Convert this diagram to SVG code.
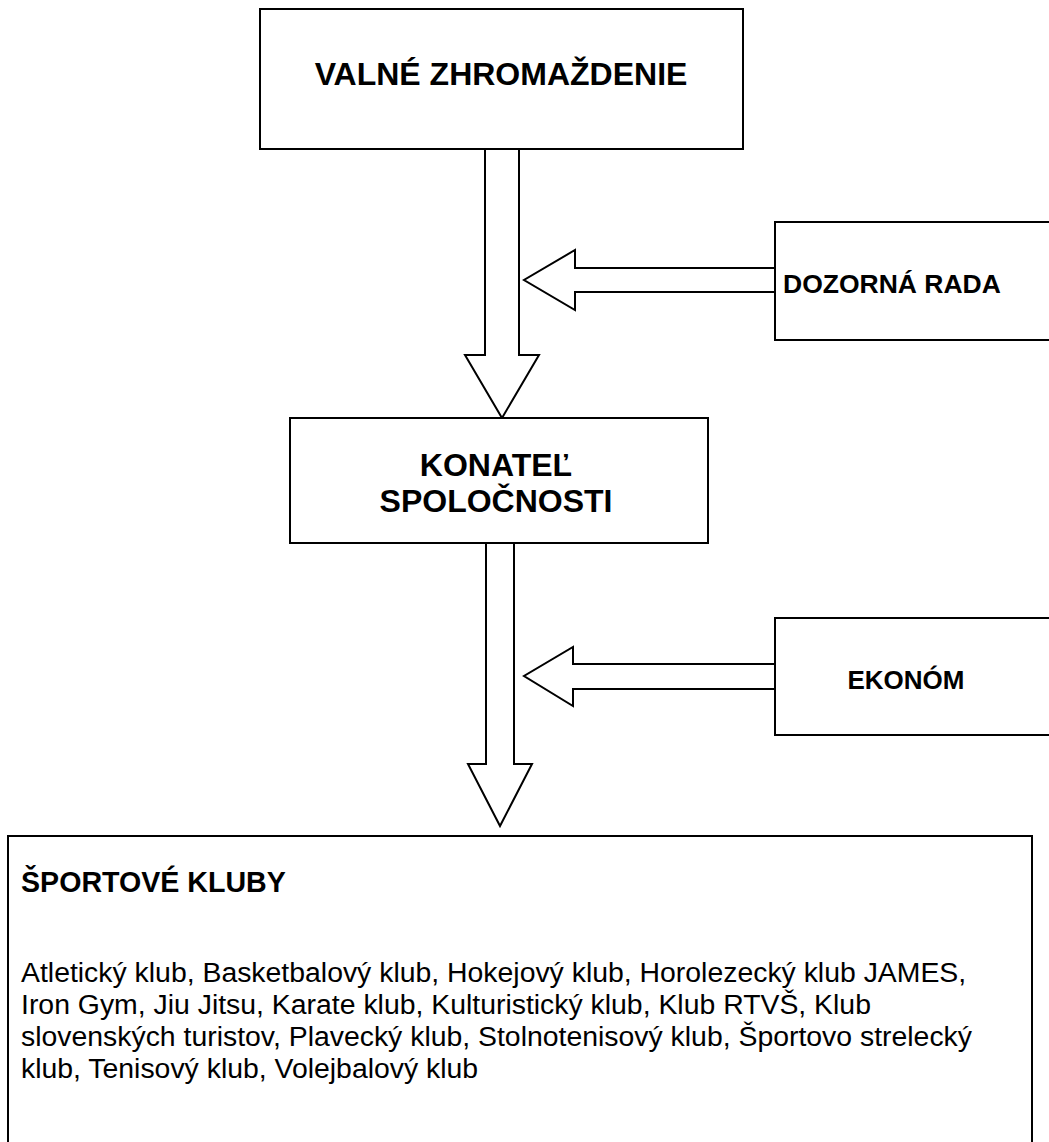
<svg xmlns="http://www.w3.org/2000/svg" width="1049" height="1142" viewBox="0 0 1049 1142">
<style>
.box{fill:#fff;stroke:#000;stroke-width:2}
.arr{fill:#fff;stroke:#000;stroke-width:2;stroke-linejoin:miter}
.t{font-family:"Liberation Sans",Arial,sans-serif;font-weight:bold;fill:#000}
.b{font-family:"Liberation Sans",Arial,sans-serif;fill:#000;font-size:28.4px}
</style>
<rect width="1049" height="1142" fill="#fff"/>
<g id="connectors">
<polygon class="arr" points="485,149 519,149 519,355 539,355 502,418 465,355 485,355"/>
<polygon class="arr" points="775,268 575,268 575,250 524,280 575,310 575,292 775,292"/>
<polygon class="arr" points="486,543 514,543 514,764 532,764 500,826 468,764 486,764"/>
<polygon class="arr" points="775,664 573,664 573,647 524,676 573,706 573,689 775,689"/>
</g>
<g id="valne">
<rect class="box" x="260" y="9" width="483" height="140"/>
<text class="t" x="501" y="85" font-size="32" text-anchor="middle">VALNÉ ZHROMAŽDENIE</text>
</g>
<g id="dozorna">
<rect class="box" x="775" y="222" width="290" height="118"/>
<text class="t" x="783" y="293" font-size="26.5">DOZORNÁ RADA</text>
</g>
<g id="konatel">
<rect class="box" x="290" y="418" width="418" height="125"/>
<text class="t" x="496" y="476" font-size="32" text-anchor="middle">KONATEĽ</text>
<text class="t" x="496" y="512" font-size="32" text-anchor="middle">SPOLOČNOSTI</text>
</g>
<g id="ekonom">
<rect class="box" x="775" y="618" width="290" height="117"/>
<text class="t" x="906" y="689" font-size="26" text-anchor="middle">EKONÓM</text>
</g>
<g id="kluby">
<rect class="box" x="8" y="836" width="1024" height="330" stroke-width="2.5"/>
<text class="t" x="21" y="892" font-size="28.6">ŠPORTOVÉ KLUBY</text>
<text class="b" x="21" y="982">Atletický klub, Basketbalový klub, Hokejový klub, Horolezecký klub JAMES,</text>
<text class="b" x="21" y="1014">Iron Gym, Jiu Jitsu, Karate klub, Kulturistický klub, Klub RTVŠ, Klub</text>
<text class="b" x="21" y="1046">slovenských turistov, Plavecký klub, Stolnotenisový klub, Športovo strelecký</text>
<text class="b" x="21" y="1078">klub, Tenisový klub, Volejbalový klub</text>
</g>
</svg>
